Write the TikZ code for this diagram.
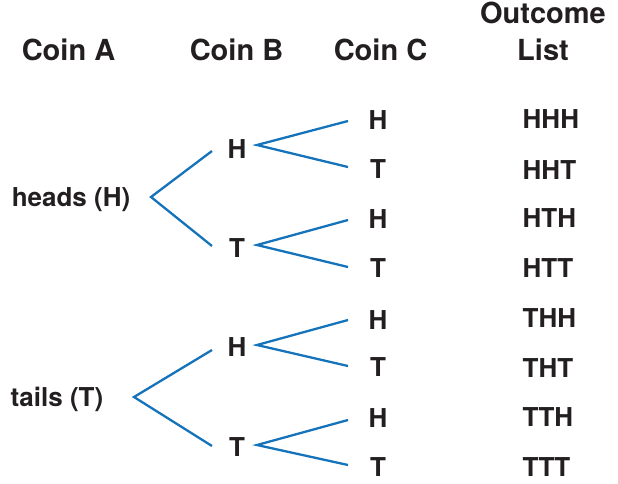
\documentclass[tikz,border=0pt]{standalone}
\usepackage{fontspec}
\setmainfont{TeX Gyre Heros}
\definecolor{treeblue}{HTML}{1473BA}
\definecolor{ink}{HTML}{231F20}
\begin{document}
\begin{tikzpicture}[x=1pt,y=-1pt,
  hdr/.style={inner sep=0pt, text height=20.8pt, text depth=0pt, text=ink, font=\bfseries\fontsize{29}{36}\selectfont},
  lbl/.style={inner sep=0pt, text height=18.7pt, text depth=0pt, text=ink, font=\bfseries\fontsize{26}{30}\selectfont},
  branch/.style={draw=treeblue, line width=2.3pt}]
\useasboundingbox (0,0) rectangle (618,483);
% headers
\node[hdr] (hA) at (68.5,50.5) {Coin A};
\node[hdr] (hB) at (236.5,50.5) {Coin B};
\node[hdr] (hC) at (380.5,50.5) {Coin C};
\node[hdr, align=center, text height=, anchor=base] (hO) at (543,60.5) {Outcome\\[1pt]List};
% coin A
\node[lbl] (ha) at (71,197) {heads (H)};
\node[lbl] (ta) at (57,397) {tails (T)};
% coin B
\node[lbl] (bh1) at (237,149) {H};
\node[lbl] (bt1) at (237,248) {T};
\node[lbl] (bh2) at (237,347.5) {H};
\node[lbl] (bt2) at (237,447.5) {T};
% coin C
\node[lbl] (c1) at (378,120) {H};
\node[lbl] (c2) at (378,169) {T};
\node[lbl] (c3) at (378,219) {H};
\node[lbl] (c4) at (378,268.5) {T};
\node[lbl] (c5) at (378,320) {H};
\node[lbl] (c6) at (378,367.5) {T};
\node[lbl] (c7) at (378,418.5) {H};
\node[lbl] (c8) at (378,467) {T};
% outcomes
\node[lbl, anchor=west] (o1) at (522.5,119.5) {HHH};
\node[lbl, anchor=west] (o2) at (522.5,170) {HHT};
\node[lbl, anchor=west] (o3) at (522.5,218) {HTH};
\node[lbl, anchor=west] (o4) at (522.5,268) {HTT};
\node[lbl, anchor=west] (o5) at (522.5,318) {THH};
\node[lbl, anchor=west] (o6) at (522.5,368) {THT};
\node[lbl, anchor=west] (o7) at (522.5,417) {TTH};
\node[lbl, anchor=west] (o8) at (522.5,467) {TTT};
% branch end points
\coordinate (ha-r) at (151,197);
\coordinate (ta-r) at (134,397);
\coordinate (bh1-l) at (212,151);
\coordinate (bt1-l) at (212,246);
\coordinate (bh2-l) at (212,350);
\coordinate (bt2-l) at (212,446);
\coordinate (bh1-r) at (257,145);
\coordinate (bt1-r) at (257,245);
\coordinate (bh2-r) at (257,345);
\coordinate (bt2-r) at (257,445);
\coordinate (c1-l) at (348,121);
\coordinate (c2-l) at (348,167);
\coordinate (c3-l) at (348,220);
\coordinate (c4-l) at (348,267);
\coordinate (c5-l) at (348,320);
\coordinate (c6-l) at (348,366);
\coordinate (c7-l) at (348,420);
\coordinate (c8-l) at (348,465);
% branches
\draw[branch] (bh1-l) -- (ha-r) -- (bt1-l);
\draw[branch] (bh2-l) -- (ta-r) -- (bt2-l);
\draw[branch] (c1-l) -- (bh1-r) -- (c2-l);
\draw[branch] (c3-l) -- (bt1-r) -- (c4-l);
\draw[branch] (c5-l) -- (bh2-r) -- (c6-l);
\draw[branch] (c7-l) -- (bt2-r) -- (c8-l);
\end{tikzpicture}
\end{document}
